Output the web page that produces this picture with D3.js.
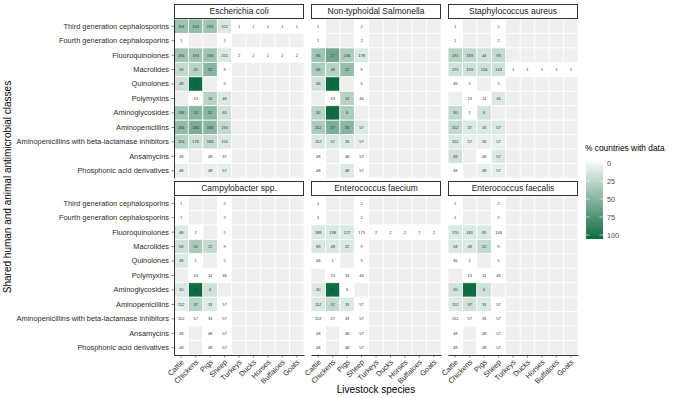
<!DOCTYPE html>
<html>
<head>
<meta charset="utf-8">
<script src="https://cdn.jsdelivr.net/npm/d3@7"></script>
<style>
  body { margin: 0; background: #fff; }
  svg { font-family: "Liberation Sans", Arial, sans-serif; -webkit-font-smoothing: antialiased; }
</style>
</head>
<body>
<div id="chart"></div>
<script>
var species = ['Cattle', 'Chickens', 'Pigs', 'Sheep', 'Turkeys', 'Ducks', 'Horses', 'Buffaloes', 'Goats'];
var classes = ['Third generation cephalosporins', 'Fourth generation cephalosporins', 'Fluoroquinolones',
    'Macrolides', 'Quinolones', 'Polymyxins', 'Aminoglycosides', 'Aminopenicillins',
    'Aminopenicillins with beta-lactamase inhibitors', 'Ansamycins', 'Phosphonic acid derivatives'];
var pathogens = ['Escherichia coli', 'Non-typhoidal Salmonella', 'Staphylococcus aureus',
    'Campylobacter spp.', 'Enterococcus faecium', 'Enterococcus faecalis'];
var legendTicks = [0, 25, 50, 75, 100];

// number of countries shown in each cell (null = no data), then % countries with data
var ecoliN = [[194, 194, 194, 152, 1, 1, 1, 1, 1], [1, null, null, 2], [194, 194, 194, 151, 2, 2, 2, 2, 2],
    [58, 45, 22, 9], [48, 1, null, 5], [null, 13, 14, 46], [198, 52, 52, 65], [194, 184, 184, 194],
    [194, 176, 184, 150], [48, null, 48, 37], [48, null, 48, 57]];
var ecoliPct = [[40, 45, 40, 15, 0, 0, 0, 0, 0], [0, null, null, 0], [40, 40, 40, 15, 0, 0, 0, 0, 0],
    [25, 30, 50, 0], [20, 100, null, 0], [null, 0, 30, 15], [40, 50, 50, 20], [45, 55, 50, 25],
    [30, 20, 25, 15], [0, null, 0, 0], [10, null, 10, 10]];

var salmN = [[1, null, null, 2], [1, null, null, 2], [86, 17, 136, 178], [68, 48, 22, 9], [46, 1, null, 5],
    [null, 13, 14, 46], [30, 1, 6, null], [152, 37, 33, 57], [152, 57, 33, 57], [48, null, 48, 57],
    [48, null, 48, 57]];
var salmPct = [[0, null, null, 0], [0, null, null, 0], [40, 60, 35, 15], [35, 30, 45, 0], [20, 100, null, 0],
    [null, 0, 30, 0], [30, 100, 35, null], [35, 55, 50, 15], [15, 15, 15, 10], [0, null, 0, 0],
    [0, null, 15, 0]];

var staphN = [[1, null, null, 2], [1, null, null, 2], [191, 183, 44, 93], [175, 193, 156, 143, 1, 1, 1, 1, 1],
    [46, 1, null, 5], [null, 13, 14, 46], [30, 1, 6, null], [152, 37, 33, 57], [152, 57, 33, 57],
    [48, null, 48, 57], [48, null, 48, 57]];
var staphPct = [[0, null, null, 0], [0, null, null, 0], [30, 25, 20, 25], [20, 20, 20, 20, 0, 0, 0, 0, 0],
    [0, 0, null, 0], [null, 0, 0, 15], [25, 0, 20, null], [25, 15, 15, 15], [15, 10, 10, 10],
    [20, null, 0, 15], [0, null, 10, 10]];

var campyN = [[1, null, null, 2], [1, null, null, 2], [48, 1, null, 5], [58, 45, 22, 9], [48, 1, null, 5],
    [null, 13, 14, 46], [30, 1, 6, null], [152, 37, 33, 57], [152, 57, 33, 57], [48, null, 48, 57],
    [48, null, 48, 57]];
var campyPct = [[0, null, null, 0], [0, null, null, 0], [15, 0, null, 0], [20, 35, 25, 0], [15, 0, null, 0],
    [null, 0, 0, 0], [15, 100, 20, null], [10, 30, 15, 0], [0, 0, 0, 0], [0, null, 0, 0],
    [0, null, 0, 0]];

var faeciumN = [[1, null, null, 2], [1, null, null, 2], [188, 138, 127, 173, 2, 2, 2, 2, 2], [68, 48, 22, 9],
    [46, 1, null, 5], [null, 13, 14, 46], [30, 1, 6, null], [152, 37, 33, 57], [152, 57, 33, 57],
    [48, null, 48, 57], [48, null, 48, 57]];
var faeciumPct = [[0, null, null, 0], [0, null, null, 0], [15, 15, 15, 0, 0, 0, 0, 0, 0], [15, 15, 15, 0],
    [0, 0, null, 0], [null, 0, 0, 0], [15, 100, 0, null], [15, 25, 15, 0], [0, 0, 0, 0],
    [0, null, 0, 0], [0, null, 0, 0]];

var faecalisN = [[1, null, null, 2], [1, null, null, 2], [170, 181, 85, 148], [58, 48, 22, 9], [46, 1, null, 5],
    [null, 13, 14, 46], [30, 1, 6, null], [152, 37, 33, 57], [152, 57, 33, 57], [48, null, 48, 57],
    [48, null, 48, 57]];
var faecalisPct = [[0, null, null, 0], [0, null, null, 0], [15, 15, 15, 0], [15, 15, 25, 0], [0, 0, null, 0],
    [null, 0, 0, 0], [20, 100, 20, null], [15, 20, 15, 0], [0, 0, 0, 0], [0, null, 0, 0],
    [0, null, 0, 0]];

var panelN = [ecoliN, salmN, staphN, campyN, faeciumN, faecalisN];
var panelPct = [ecoliPct, salmPct, staphPct, campyPct, faeciumPct, faecalisPct];

var width = 685, height = 398;
var panelW = 130, panelH = 159;
var colX = [174, 311, 448];
var rowY = [19, 196];
var stripH = 14;

var svg = d3.select('#chart').append('svg')
    .attr('width', width)
    .attr('height', height);

var x = d3.scaleBand().domain(species).range([0, panelW]);
var y = d3.scaleBand().domain(classes).range([0, panelH]);
var color = d3.scaleLinear().domain([0, 100])
    .range(['#ffffff', '#0f6b41'])
    .interpolate(d3.interpolateRgb);

pathogens.forEach(function (name, i) {
    var col = i % 3, row = Math.floor(i / 3);
    var g = svg.append('g')
        .attr('transform', 'translate(' + colX[col] + ',' + rowY[row] + ')');

    // build the cells for this panel
    var cells = [];
    classes.forEach(function (c, r) {
        species.forEach(function (s, k) {
            var n = panelN[i][r][k];
            var p = panelPct[i][r][k];
            cells.push({ cls: c, sp: s, n: n == null ? null : n, p: p == null ? null : p });
        });
    });

    g.selectAll('.cell')
        .data(cells)
        .enter()
        .append('rect')
        .attr('class', 'cell')
        .attr('x', d => x(d.sp))
        .attr('y', d => y(d.cls))
        .attr('width', x.bandwidth())
        .attr('height', y.bandwidth())
        .attr('fill', d => d.n == null ? '#efefef' : color(d.p))
        .attr('stroke', '#fff')
        .attr('stroke-width', 0.8);

    g.selectAll('.num')
        .data(cells.filter(d => d.n != null))
        .enter()
        .append('text')
        .attr('class', 'num')
        .attr('x', d => x(d.sp) + x.bandwidth() / 2)
        .attr('y', d => y(d.cls) + y.bandwidth() / 2)
        .attr('dy', '0.35em')
        .attr('text-anchor', 'middle')
        .attr('font-size', 4)
        .attr('fill', '#333')
        .text(d => d.n);

    // strip
    svg.append('rect')
        .attr('x', colX[col] + 0.5)
        .attr('y', rowY[row] - stripH - 0.5)
        .attr('width', panelW - 1)
        .attr('height', stripH)
        .attr('fill', '#fff')
        .attr('stroke', '#333')
        .attr('stroke-width', 1);
    svg.append('text')
        .attr('x', colX[col] + panelW / 2)
        .attr('y', rowY[row] - stripH / 2 - 0.5)
        .attr('dy', '0.35em')
        .attr('text-anchor', 'middle')
        .attr('font-size', 8.5)
        .attr('fill', '#1a1a1a')
        .text(name);

    if (col === 0) {
        var yAxis = g.append('g')
            .attr('class', 'axis')
            .call(d3.axisLeft(y).tickSize(2.5).tickSizeOuter(0).tickPadding(2.5));
        yAxis.selectAll('text').attr('font-size', 7.4);
    }
    if (row === 1) {
        var xAxis = g.append('g')
            .attr('class', 'axis')
            .attr('transform', 'translate(0,' + panelH + ')')
            .call(d3.axisBottom(x).tickSize(2.5).tickSizeOuter(0).tickPadding(2));
        xAxis.selectAll('text')
            .attr('font-size', 7.4)
            .attr('text-anchor', 'end')
            .attr('dy', '0.5em')
            .attr('dx', '0.1em')
            .attr('transform', 'translate(0,1) rotate(-45,0,4.5)');
    }
});

svg.selectAll('.axis path').attr('stroke', '#000').attr('stroke-width', 0.8);
svg.selectAll('.axis line').attr('stroke', '#333').attr('stroke-width', 0.6);
svg.selectAll('.axis text')
    .attr('fill', '#2b2b2b')
    .attr('font-family', '"Liberation Sans", Arial, sans-serif');

// axis titles
svg.append('text')
    .attr('x', colX[1] + panelW / 2)
    .attr('y', 393)
    .attr('text-anchor', 'middle')
    .attr('font-size', 10)
    .attr('fill', '#000')
    .text('Livestock species');

svg.append('text')
    .attr('transform', 'translate(11,' + (rowY[0] + (rowY[1] + panelH - rowY[0]) / 2) + ') rotate(-90)')
    .attr('text-anchor', 'middle')
    .attr('font-size', 10)
    .attr('fill', '#000')
    .text('Shared human and animal antimicrobial classes');

// legend
var lg = svg.append('g').attr('transform', 'translate(585,144)');
lg.append('text')
    .attr('x', 0)
    .attr('y', 7)
    .attr('font-size', 8.4)
    .attr('fill', '#000')
    .text('% countries with data');

var defs = svg.append('defs');
var grad = defs.append('linearGradient')
    .attr('id', 'lgGrad')
    .attr('x1', 0).attr('y1', 0).attr('x2', 0).attr('y2', 1);
d3.range(0, 101, 10).forEach(function (v) {
    grad.append('stop')
        .attr('offset', v + '%')
        .attr('stop-color', color(v));
});

var barTop = 15, barH = 80, barW = 17;
var ly = d3.scaleLinear().domain([0, 100]).range([barTop + 4, barTop + barH - 4]);
lg.append('rect')
    .attr('x', 1)
    .attr('y', barTop)
    .attr('width', barW)
    .attr('height', barH)
    .attr('fill', 'url(#lgGrad)');
lg.selectAll('.lt')
    .data(legendTicks)
    .enter()
    .append('g')
    .each(function (v) {
        var t = d3.select(this);
        t.append('line').attr('x1', 1).attr('x2', 4.5).attr('y1', ly(v)).attr('y2', ly(v))
            .attr('stroke', '#fff').attr('stroke-width', 0.6);
        t.append('line').attr('x1', barW - 2.5).attr('x2', barW + 1).attr('y1', ly(v)).attr('y2', ly(v))
            .attr('stroke', '#fff').attr('stroke-width', 0.6);
        t.append('text')
            .attr('x', barW + 5)
            .attr('y', ly(v))
            .attr('dy', '0.35em')
            .attr('font-size', 7.2)
            .attr('fill', '#4d4d4d')
            .text(v);
    });
</script>
</body>
</html>
